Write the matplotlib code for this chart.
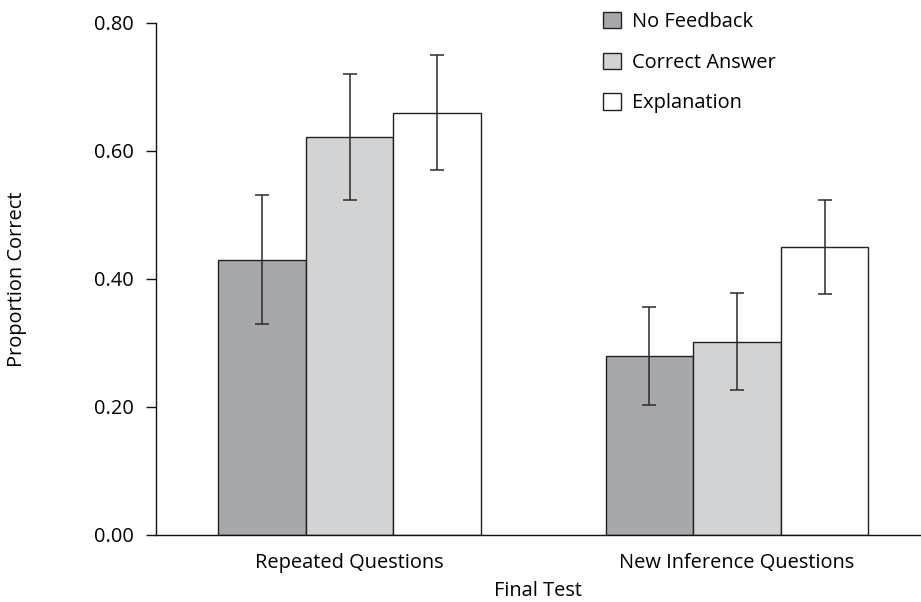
import matplotlib
matplotlib.use("Agg")
import matplotlib.pyplot as plt
import numpy as np

# Data
groups = ["Repeated Questions", "New Inference Questions"]
conditions = ["No Feedback", "Correct Answer", "Explanation"]
no_feedback = [0.43, 0.28]
correct_answer = [0.622, 0.302]
explanation = [0.660, 0.450]
no_feedback_err = [0.101, 0.077]
correct_answer_err = [0.099, 0.076]
explanation_err = [0.090, 0.074]
yticks = [0.00, 0.20, 0.40, 0.60, 0.80]
ytick_labels = ["0.00", "0.20", "0.40", "0.60", "0.80"]

plt.rcParams["font.family"] = ["Open Sans", "DejaVu Sans"]
FS = 14.4

fig = plt.figure(figsize=(9.21, 6.02), dpi=100)
ax = fig.add_axes([156 / 921, 67 / 602, 1 - 156 / 921, 512 / 602])

x = np.arange(len(groups))
w = 0.226
fills = ["#a7a8ac", "#d2d3d5", "#ffffff"]
series = [no_feedback, correct_answer, explanation]
errs = [no_feedback_err, correct_answer_err, explanation_err]

for i, (vals, err, col, name) in enumerate(zip(series, errs, fills, conditions)):
    pos = x + (i - 1) * w
    ax.bar(pos, vals, width=w, color=col, edgecolor="#222222", linewidth=1.0,
           label=name, zorder=2)
    ax.errorbar(pos, vals, yerr=err, fmt="none", ecolor="#2a2a2a",
                elinewidth=1.1, capsize=4.7, capthick=1.1, zorder=3)

ax.set_xlim(-0.5, 1.475)
ax.set_ylim(0, 0.8)
ax.set_yticks(yticks)
ax.set_yticklabels(ytick_labels)
ax.set_xticks(x)
ax.set_xticklabels(groups)

for side in ["top", "right"]:
    ax.spines[side].set_visible(False)
for side in ["left", "bottom"]:
    ax.spines[side].set_linewidth(1.0)
    ax.spines[side].set_color("#111111")

ax.tick_params(axis="y", direction="out", length=7.2, width=1.0, pad=8.5,
               labelsize=FS, color="#111111")
ax.tick_params(axis="x", length=0, pad=13, labelsize=FS)

ax.set_xlabel("Final Test", fontsize=FS, labelpad=5.5)
ax.set_ylabel("Proportion Correct", fontsize=FS)
ax.yaxis.set_label_coords(-0.168, 0.5)

leg = ax.legend(loc="upper left", bbox_to_anchor=(603 / 921, 1 - 12 / 602),
                bbox_transform=fig.transFigure, frameon=False,
                fontsize=FS, handlelength=0.88, handleheight=0.88,
                handletextpad=0.55, labelspacing=1.03, borderpad=0,
                borderaxespad=0)
for h in leg.legend_handles:
    h.set_linewidth(1.0)

fig.savefig("out.png", dpi=100)
